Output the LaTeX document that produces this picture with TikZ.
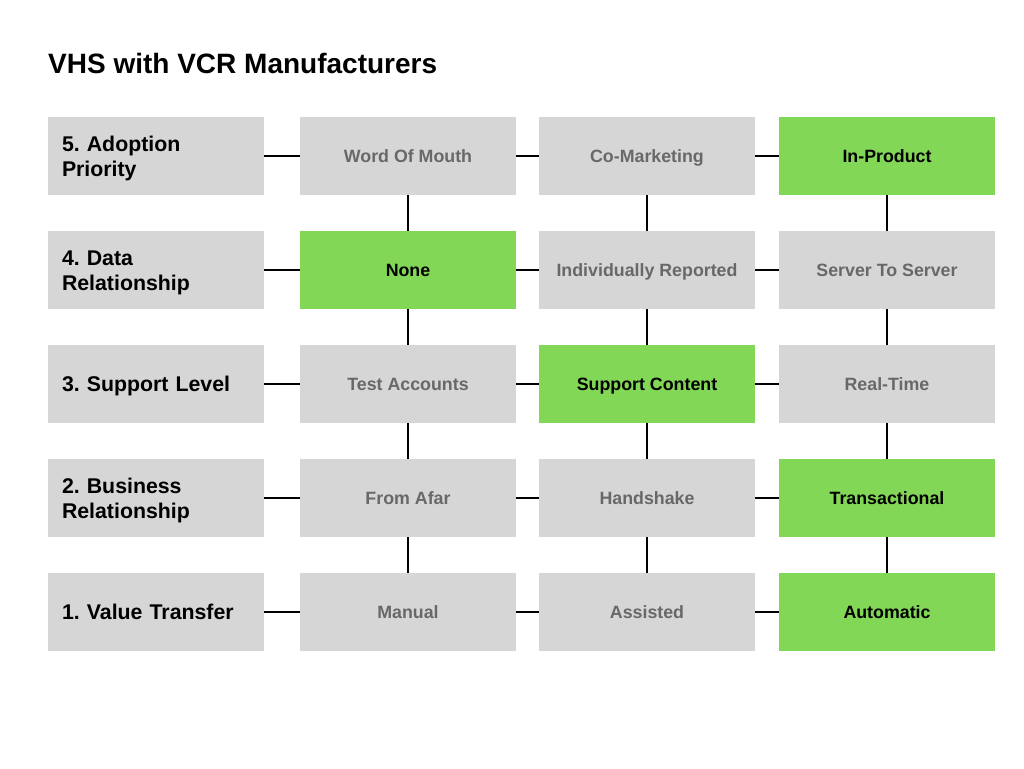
\documentclass[tikz,border=0pt]{standalone}
\usepackage{fontspec}
\setmainfont{Liberation Sans}
\usepackage{tikz}
\usetikzlibrary{positioning}
\definecolor{boxgray}{HTML}{D6D6D6}
\definecolor{boxgreen}{HTML}{82D756}
\definecolor{textgray}{HTML}{686868}
\frenchspacing
\tikzset{
  rowlabel/.style={
    rectangle,
    fill=boxgray,
    inner xsep=14pt,
    inner ysep=0pt,
    text width=188pt,
    align=left,
    text height=15.2pt,
    text depth=0pt,
    minimum height=78pt,
    font=\fontsize{21.3}{25}\selectfont\bfseries
  },
  twoline/.style={
    text depth=25pt
  },
  cell/.style={
    rectangle,
    fill=boxgray,
    text=textgray,
    text centered,
    inner sep=0pt,
    text height=12.6pt,
    text depth=0pt,
    minimum width=216pt,
    minimum height=78pt,
    font=\fontsize{17.8}{21}\selectfont\bfseries
  },
  chosen/.style={
    cell,
    fill=boxgreen,
    text=black
  },
  link/.style={
    line width=1.5pt,
    black
  }
}

\begin{document}
\begin{tikzpicture}[x=1pt, y=-1pt]
  \useasboundingbox (0,0) rectangle (1024,768);

  % Title
  \node[anchor=base west, inner sep=0pt, font=\fontsize{28}{32}\selectfont\bfseries] (title) at (48,73.5) {VHS with VCR Manufacturers};

  % Row labels
  \node[rowlabel, twoline] (adoption) at (156,156) {5. Adoption\\Priority};
  \node[rowlabel, twoline] (data) at (156,270) {4. Data\\Relationship};
  \node[rowlabel] (support) at (156,384) {3. Support Level};
  \node[rowlabel, twoline] (business) at (156,498) {2. Business\\Relationship};
  \node[rowlabel] (value) at (156,612) {1. Value Transfer};

  % Row 5
  \node[cell] (mouth) at (408,156) {Word Of Mouth};
  \node[cell] (comarketing) at (647,156) {Co-Marketing};
  \node[chosen] (inproduct) at (887,156) {In-Product};

  % Row 4
  \node[chosen] (none) at (408,270) {None};
  \node[cell] (reported) at (647,270) {Individually Reported};
  \node[cell] (server) at (887,270) {Server To Server};

  % Row 3
  \node[cell] (test) at (408,384) {Test Accounts};
  \node[chosen] (content) at (647,384) {Support Content};
  \node[cell] (realtime) at (887,384) {Real-Time};

  % Row 2
  \node[cell] (afar) at (408,498) {From Afar};
  \node[cell] (handshake) at (647,498) {Handshake};
  \node[chosen] (transactional) at (887,498) {Transactional};

  % Row 1
  \node[cell] (manual) at (408,612) {Manual};
  \node[cell] (assisted) at (647,612) {Assisted};
  \node[chosen] (automatic) at (887,612) {Automatic};

  % Horizontal links
  \draw[link] (adoption) -- (mouth) -- (comarketing) -- (inproduct);
  \draw[link] (data) -- (none) -- (reported) -- (server);
  \draw[link] (support) -- (test) -- (content) -- (realtime);
  \draw[link] (business) -- (afar) -- (handshake) -- (transactional);
  \draw[link] (value) -- (manual) -- (assisted) -- (automatic);

  % Vertical links
  \draw[link] (mouth) -- (none) -- (test) -- (afar) -- (manual);
  \draw[link] (comarketing) -- (reported) -- (content) -- (handshake) -- (assisted);
  \draw[link] (inproduct) -- (server) -- (realtime) -- (transactional) -- (automatic);
\end{tikzpicture}
\end{document}
